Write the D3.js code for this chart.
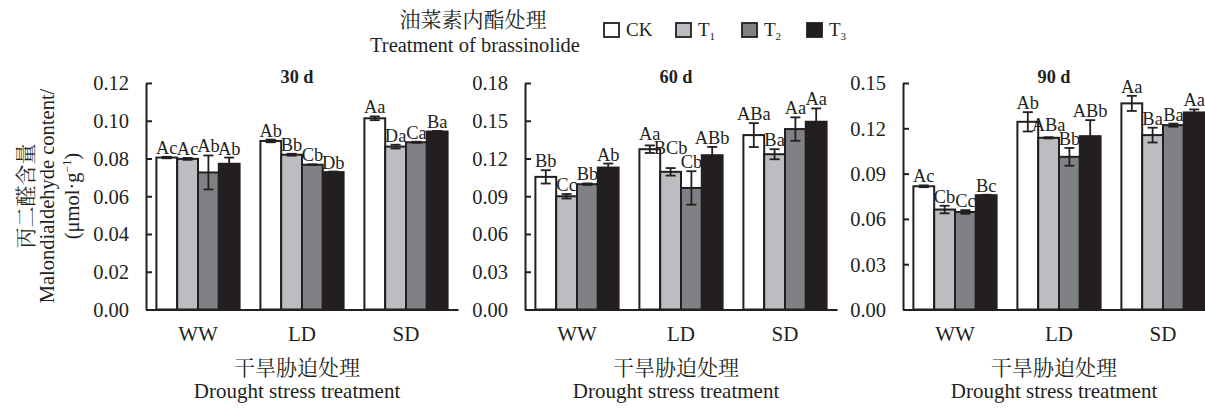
<!DOCTYPE html>
<html><head><meta charset="utf-8">
<script src="https://cdn.jsdelivr.net/npm/d3@7"></script>
<style>
body{margin:0;background:#fff;}
text{font-family:"Liberation Serif","Times New Roman","Noto Serif CJK SC","Noto Sans CJK SC",serif;fill:#231f20;}
</style></head>
<body><svg id="chart" width="1205" height="408"></svg>
<script>
// ---- data ----
const groups = ["WW", "LD", "SD"];
const treatments = ["CK", "T1", "T2", "T3"];
const treatmentColors = ["#ffffff", "#bcbdc0", "#808184", "#231f20"];
const panelTitles = ["30 d", "60 d", "90 d"];

const mean30 = [[0.0805, 0.0798, 0.0726, 0.0772], [0.0893, 0.0820, 0.0767, 0.0728], [0.1013, 0.0863, 0.0886, 0.0943]];
const err30  = [[0.0004, 0.0005, 0.0090, 0.0033], [0.0007, 0.0005, 0.0002, 0.0003], [0.0010, 0.0010, 0.0003, 0.0003]];
const sig30  = [["Ac", "Ac", "Ab", "Ab"], ["Ab", "Bb", "Cb", "Db"], ["Aa", "Da", "Ca", "Ba"]];

const mean60 = [[0.1054, 0.0900, 0.0996, 0.1128], [0.1274, 0.1094, 0.0966, 0.1226], [0.1386, 0.1234, 0.1434, 0.1492]];
const err60  = [[0.0053, 0.0018, 0.0006, 0.0032], [0.0030, 0.0030, 0.0133, 0.0066], [0.0095, 0.0040, 0.0093, 0.0106]];
const sig60  = [["Bb", "Cc", "Bb", "Ab"], ["Aa", "BCb", "Cb", "ABb"], ["ABa", "Ba", "Aa", "Aa"]];

const mean90 = [[0.0816, 0.0662, 0.0646, 0.0757], [0.1243, 0.1137, 0.1011, 0.1148], [0.1365, 0.1155, 0.1221, 0.1305]];
const err90  = [[0.0006, 0.0025, 0.0012, 0.0003], [0.0064, 0.0004, 0.0059, 0.0106], [0.0050, 0.0049, 0.0010, 0.0020]];
const sig90  = [["Ac", "Cb", "Cc", "Bc"], ["Ab", "ABa", "Bb", "ABb"], ["Aa", "Ba", "Ba", "Aa"]];

const yTicks30 = [0, 0.02, 0.04, 0.06, 0.08, 0.10, 0.12];
const yTicks60 = [0, 0.03, 0.06, 0.09, 0.12, 0.15, 0.18];
const yTicks90 = [0, 0.03, 0.06, 0.09, 0.12, 0.15];

const legendTitleCN = "油菜素内酯处理";
const legendTitleEN = "Treatment of brassinolide";
const xTitleCN = "干旱胁迫处理";
const xTitleEN = "Drought stress treatment";
const yTitleCN = "丙二醛含量";
const yTitleEN = "Malondialdehyde content/";

// ---- drawing ----
const svg = d3.select("#chart");
const panels = [
  {x0: 146, means: mean30, errs: err30, sigs: sig30, ticks: yTicks30, title: panelTitles[0]},
  {x0: 525, means: mean60, errs: err60, sigs: sig60, ticks: yTicks60, title: panelTitles[1]},
  {x0: 903, means: mean90, errs: err90, sigs: sig90, ticks: yTicks90, title: panelTitles[2]}
];
const yTop = 83, yBot = 309.5, panelW = 312;
const fs = 20.5, sigFs = 18.4;

panels.forEach(p => {
  const g = svg.append("g");
  const x = d3.scaleBand().domain(groups).range([p.x0, p.x0 + panelW]).paddingInner(0.2).paddingOuter(0.1);
  const xi = d3.scaleBand().domain(treatments).range([0, x.bandwidth()]);
  const y = d3.scaleLinear().domain([0, d3.max(p.ticks)]).range([yBot, yTop]);

  groups.forEach((grp, gi) => {
    const gg = g.append("g").attr("transform", `translate(${x(grp)},0)`);
    const rows = treatments.map((t, ti) => ({t, ti, v: p.means[gi][ti], e: p.errs[gi][ti], s: p.sigs[gi][ti]}));
    const cxOf = d => xi(d.t) + xi.bandwidth() / 2;
    gg.selectAll("rect").data(rows).join("rect")
      .attr("x", d => xi(d.t)).attr("y", d => y(d.v))
      .attr("width", xi.bandwidth()).attr("height", d => y(0) - y(d.v))
      .attr("fill", d => treatmentColors[d.ti]).attr("stroke", "#231f20").attr("stroke-width", 2);
    const eb = gg.selectAll("g.eb").data(rows).join("g").attr("class", "eb")
      .attr("stroke", "#231f20").attr("stroke-width", 1.8);
    eb.append("line").attr("x1", cxOf).attr("x2", cxOf)
      .attr("y1", d => y(d.v + d.e)).attr("y2", d => y(d.v - d.e));
    eb.append("line").attr("x1", d => cxOf(d) - 5).attr("x2", d => cxOf(d) + 5)
      .attr("y1", d => y(d.v + d.e)).attr("y2", d => y(d.v + d.e));
    eb.append("line").attr("x1", d => cxOf(d) - 5).attr("x2", d => cxOf(d) + 5)
      .attr("y1", d => y(d.v - d.e)).attr("y2", d => y(d.v - d.e));

    // significance labels with simple collision avoidance (lower labels placed first)
    const labels = gg.selectAll("text.sig").data(rows).join("text").attr("class", "sig")
      .attr("x", cxOf).attr("y", d => y(d.v + d.e) - 3)
      .attr("text-anchor", "middle").attr("font-size", sigFs).text(d => d.s);
    labels.each(function(d) { d.w = this.getComputedTextLength(); d.b = y(d.v + d.e) - 3; d.cx = cxOf(d); });
    const order = rows.slice().sort((a, b) => (a.v + a.e) - (b.v + b.e));
    const placed = [];
    const capH = 0.72 * sigFs;
    order.forEach(d => {
      let moved = true;
      while (moved) {
        moved = false;
        for (const q of placed) {
          const hOver = Math.min(d.cx + d.w / 2, q.cx + q.w / 2) - Math.max(d.cx - d.w / 2, q.cx - q.w / 2) > 3;
          const vOver = (d.b > q.b - capH - 1) && (d.b - capH - 1 < q.b);
          if (hOver && vOver) { d.b = q.b - capH - 1; moved = true; }
        }
      }
      placed.push(d);
    });
    labels.attr("y", d => d.b);
  });

  const ya = g.append("g").attr("transform", `translate(${p.x0},0)`)
    .call(d3.axisLeft(y).tickValues(p.ticks).tickFormat(d3.format(".2f")).tickSizeInner(-6).tickSizeOuter(0).tickPadding(17));
  ya.select(".domain").attr("stroke", "#231f20").attr("stroke-width", 2);
  ya.selectAll(".tick line").attr("stroke", "#231f20").attr("stroke-width", 2);
  ya.selectAll(".tick text").attr("font-size", fs).attr("font-family", null).attr("dy", "0.34em");

  const xa = g.append("g").attr("transform", `translate(0,${yBot})`)
    .call(d3.axisBottom(x).tickSize(0).tickPadding(17));
  xa.select(".domain").attr("stroke", "#231f20").attr("stroke-width", 2);
  xa.selectAll(".tick text").attr("font-size", 21).attr("font-family", null);

  const cx = p.x0 + panelW / 2 - 5;
  g.append("text").attr("x", cx).attr("y", 83).attr("text-anchor", "middle")
    .attr("font-size", 18.3).attr("font-weight", "bold").text(p.title);
  g.append("text").attr("x", cx).attr("y", 375).attr("text-anchor", "middle").attr("font-size", 21).text(xTitleCN);
  g.append("text").attr("x", cx).attr("y", 398).attr("text-anchor", "middle").attr("font-size", 21).text(xTitleEN);
});

// y title
const yt = svg.append("g").attr("transform", "translate(0,196)");
yt.append("text").attr("transform", "translate(33,0) rotate(-90)").attr("text-anchor", "middle").attr("font-size", 21).text(yTitleCN);
yt.append("text").attr("transform", "translate(54,0) rotate(-90)").attr("text-anchor", "middle").attr("font-size", fs).text(yTitleEN);
const yu = yt.append("text").attr("transform", "translate(79,0) rotate(-90)").attr("text-anchor", "middle").attr("font-size", fs);
yu.append("tspan").text("(μmol·g");
yu.append("tspan").attr("font-size", 12).attr("dy", -8).text("−1");
yu.append("tspan").attr("dy", 8).text(")");

// legend
svg.append("text").attr("x", 473).attr("y", 27).attr("text-anchor", "middle").attr("font-size", 21).text(legendTitleCN);
svg.append("text").attr("x", 475).attr("y", 52).attr("text-anchor", "middle").attr("font-size", fs).text(legendTitleEN);
const legX = [604, 676, 742, 807];
treatments.forEach((t, i) => {
  svg.append("rect").attr("x", legX[i]).attr("y", 23).attr("width", 15).attr("height", 14)
    .attr("fill", treatmentColors[i]).attr("stroke", "#231f20").attr("stroke-width", 1.8);
  const tx = svg.append("text").attr("x", legX[i] + 22).attr("y", 36).attr("font-size", 19);
  if (t === "CK") tx.text("CK");
  else {
    tx.append("tspan").text(t[0]);
    tx.append("tspan").attr("font-size", 11).attr("dy", 4).text(t.slice(1));
  }
});
</script></body></html>
